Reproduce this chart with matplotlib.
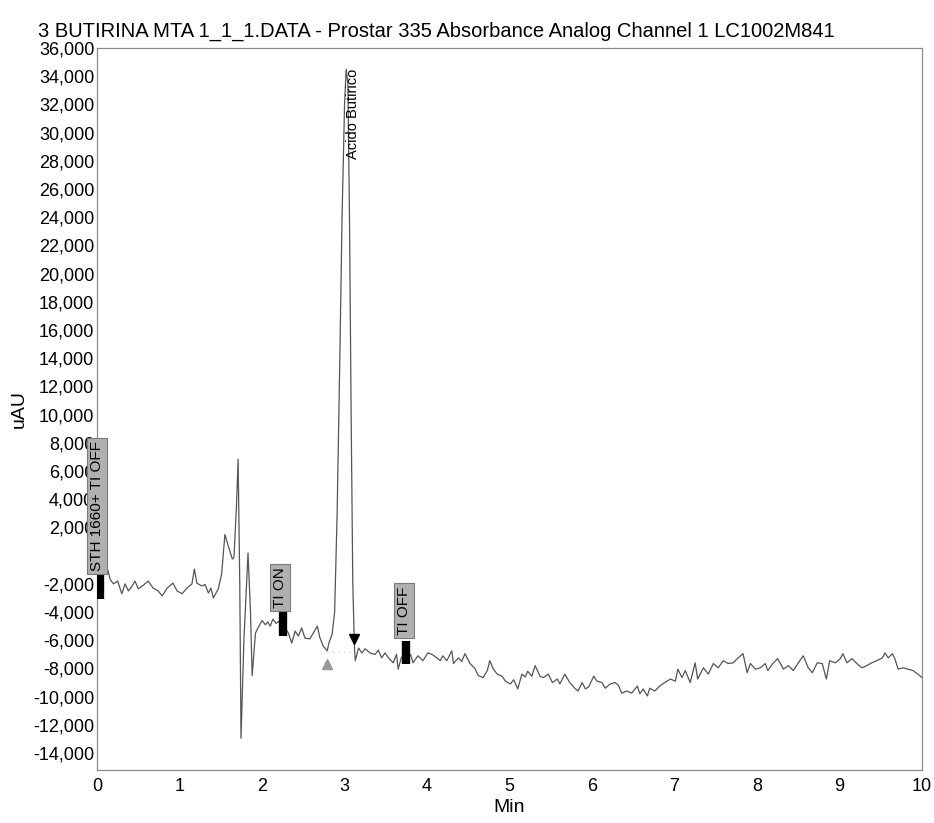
import matplotlib
matplotlib.use("Agg")
import matplotlib.pyplot as plt

plt.rcParams['font.family'] = ['Liberation Sans Narrow', 'Liberation Sans', 'DejaVu Sans']

# chromatogram trace (minutes, uAU)
time_min = [
    0.00, 0.03, 0.06, 0.10, 0.13, 0.16, 0.20, 0.25, 0.30, 0.34, 0.38, 0.42, 0.46, 0.50,
    0.56, 0.62, 0.68, 0.74, 0.79, 0.85, 0.92, 0.97, 1.03, 1.09, 1.15, 1.18, 1.21, 1.27,
    1.31, 1.35, 1.38, 1.41, 1.47, 1.51, 1.55, 1.59, 1.64, 1.66, 1.69, 1.71, 1.73, 1.745,
    1.78, 1.83, 1.86, 1.88, 1.92, 1.95, 2.00, 2.04, 2.07, 2.10, 2.13, 2.17, 2.22, 2.28,
    2.32, 2.36, 2.40, 2.44, 2.48, 2.52, 2.58, 2.62, 2.67, 2.70, 2.74, 2.79, 2.81, 2.85,
    2.88, 2.91, 2.94, 2.97, 3.00, 3.02, 3.04, 3.06, 3.08, 3.10, 3.12, 3.13, 3.17, 3.21,
    3.25, 3.31, 3.37, 3.41, 3.45, 3.49, 3.54, 3.59, 3.63, 3.65, 3.69, 3.77, 3.80, 3.83,
    3.89, 3.95, 4.01, 4.06, 4.12, 4.16, 4.19, 4.24, 4.30, 4.32, 4.38, 4.42, 4.46, 4.52,
    4.58, 4.62, 4.68, 4.73, 4.76, 4.80, 4.85, 4.91, 4.95, 5.01, 5.05, 5.10, 5.15, 5.19,
    5.22, 5.27, 5.31, 5.37, 5.41, 5.47, 5.52, 5.58, 5.61, 5.67, 5.73, 5.79, 5.83, 5.88,
    5.92, 5.96, 6.02, 6.06, 6.12, 6.16, 6.22, 6.28, 6.32, 6.36, 6.42, 6.48, 6.55, 6.58,
    6.62, 6.67, 6.70, 6.76, 6.82, 6.88, 6.95, 7.01, 7.04, 7.09, 7.13, 7.19, 7.25, 7.28,
    7.35, 7.41, 7.47, 7.53, 7.59, 7.65, 7.71, 7.77, 7.83, 7.88, 7.92, 7.98, 8.04, 8.10,
    8.13, 8.19, 8.25, 8.32, 8.38, 8.44, 8.50, 8.56, 8.62, 8.67, 8.73, 8.79, 8.84, 8.88,
    8.95, 9.01, 9.04, 9.09, 9.15, 9.21, 9.27, 9.33, 9.39, 9.45, 9.52, 9.55, 9.59, 9.64,
    9.67, 9.71, 9.77, 9.83, 9.89, 9.95, 10.00,
]
signal_uau = [
    -1200, -700, -600, -1300, -1000, -1700, -2000, -1800, -2700, -2000, -2500, -2200, -1800, -2350,
    -2100, -1800, -2300, -2500, -2850, -2300, -1950, -2500, -2700, -2300, -2000, -950, -1950, -2150,
    -2050, -2650, -2300, -3000, -2350, -1300, 1500, 700, -250, -100, 3500, 6850, -2000, -12950,
    -6000, 185, -4000, -8500, -5500, -5130, -4600, -4900, -4700, -5000, -4500, -4800, -4600, -5130,
    -5500, -6200, -5350, -5700, -5130, -5850, -5900, -5500, -5000, -5800, -6400, -6750, -6200, -5550,
    -4000, 3000, 13000, 24000, 32000, 34500, 33500, 24000, 10000, -2000, -6500, -7450, -6550, -6900,
    -6600, -6900, -7000, -6700, -7250, -6900, -7300, -7600, -7000, -8050, -7200, -7250, -7000, -7600,
    -7100, -7450, -6900, -7000, -7250, -7450, -7100, -7450, -6750, -7650, -7250, -7500, -6950, -7650,
    -8000, -8500, -8650, -8150, -7450, -8000, -8400, -8550, -8900, -9100, -8800, -9450, -8400, -8600,
    -8200, -8550, -7800, -8550, -8650, -8400, -9000, -8750, -9100, -8400, -9000, -9400, -9600, -9000,
    -9450, -9300, -8550, -8900, -9000, -9400, -9100, -9000, -9200, -9750, -9600, -9750, -9250, -9800,
    -9450, -9950, -9400, -9600, -9250, -9000, -8750, -8900, -8050, -8650, -8150, -9000, -7600, -8750,
    -7950, -8400, -7650, -7950, -7450, -7650, -7600, -7250, -6950, -8300, -7650, -8050, -7950, -7650,
    -8150, -7650, -7300, -8050, -7800, -8150, -7600, -7100, -7950, -8300, -7600, -7650, -8750, -7450,
    -7600, -7300, -6950, -7600, -7300, -7650, -7950, -7800, -7600, -7450, -7250, -6900, -7250, -6950,
    -7300, -8050, -7950, -8050, -8150, -8400, -8650,
]

# integration events and the named peak
event_times = [0.0, 2.22, 3.72]
event_labels = ["STH 1660+ TI OFF", "TI ON", "TI OFF"]
peak_name = "Acido Butirico"
peak_time = 3.02
peak_height = 34500
valley_start = (2.79, -7700)
valley_end = (3.12, -5900)

fig = plt.figure(figsize=(9.34, 8.23), dpi=100)
ax = fig.add_axes([0.1039, 0.0644, 0.8833, 0.8773])

ax.plot(time_min, signal_uau, color='#555555', lw=0.9, zorder=2)

# baseline start/end markers
ax.plot([valley_start[0], valley_end[0]], [valley_start[1] + 900, valley_end[1] - 900],
        color='#cccccc', lw=0.8, ls=(0, (1, 4)), zorder=1)
ax.plot(*valley_start, marker='^', ms=7, color='#9a9a9a', zorder=3)
ax.plot(*valley_end, marker='v', ms=7, color='black', zorder=3)

ax.text(peak_time + 0.08, peak_height, peak_name, rotation=90, ha='center', va='top',
        fontsize=10.5, zorder=4)

# event boxes (label above black tick)
box_y = [-1100, -3700, -5600]
bar_y = [(-1250, -3100), (-4000, -5700), (-6050, -7700)]
for t, lab, by, (b0, b1) in zip(event_times, event_labels, box_y, bar_y):
    ax.text(t, by, lab, rotation=90, ha='center', va='bottom', fontsize=11, zorder=6,
            bbox=dict(boxstyle='square,pad=0.2', facecolor='#b0b0b0', edgecolor='#7a7a7a', lw=0.8))
    ax.plot([t + 0.03, t + 0.03], [b0, b1], color='black', lw=6, solid_capstyle='butt', zorder=5)

ax.set_xlim(0, 10)
ax.set_ylim(-15200, 36000)
ax.set_xticks(range(0, 11))
ax.set_yticks(range(-14000, 36001, 2000))
ax.set_yticklabels(['' if v == 0 else f'{v:,}' for v in range(-14000, 36001, 2000)])
ax.tick_params(length=0, labelsize=13, pad=2)
ax.tick_params(axis='x', pad=6)
for s in ax.spines.values():
    s.set_color('#8a8a8a')
    s.set_linewidth(0.9)

ax.set_xlabel('Min', fontsize=14, labelpad=3)
ax.set_ylabel('uAU', fontsize=14, labelpad=4)
fig.text(0.041, 0.962, '3 BUTIRINA MTA 1_1_1.DATA - Prostar 335 Absorbance Analog Channel 1 LC1002M841',
         fontsize=14.5, ha='left', va='center')

fig.savefig('out.png', dpi=100)
